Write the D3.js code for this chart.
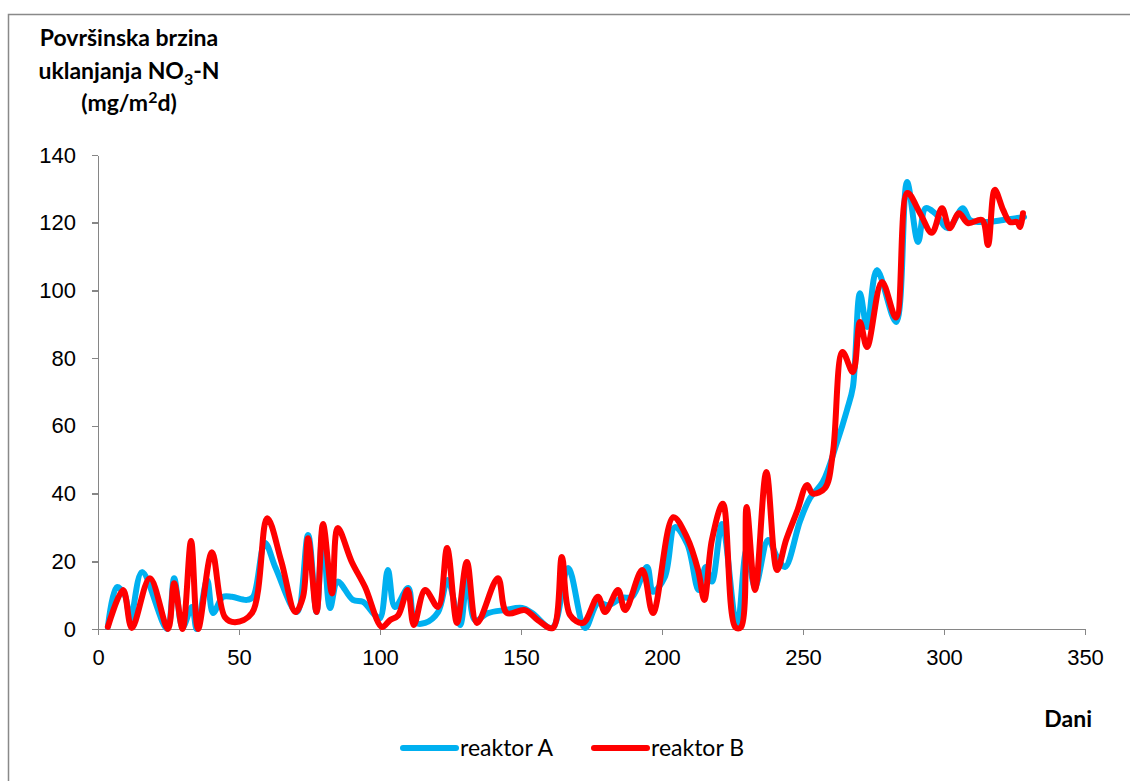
<!DOCTYPE html>
<html lang="hr">
<head>
  <meta charset="utf-8">
  <title>Površinska brzina uklanjanja NO3-N</title>
  <script src="https://cdn.jsdelivr.net/npm/d3@7"></script>
  <style>
    body { margin: 0; background: #fff; }
    svg { display: block; font-family: Lato, "Open Sans", sans-serif; }
    .axis path, .axis line { stroke: #868686; stroke-width: 1.5; shape-rendering: crispEdges; }
    .axis text { font-size: 22px; fill: #000; }
    .title { font-size: 23px; font-weight: bold; }
  </style>
</head>
<body>
  <div id="box"></div>
  <script>
    const width = 1130
    const height = 781

    // reaktor A (plava) - dan, brzina
    const daysA = [3.5, 6.7, 9.5, 11.5, 15.6, 24.5, 27, 30, 33.3, 35, 38.7, 40.8, 44.3, 47.5, 52.8, 55, 59.2, 63, 70.5, 74.5, 77.5, 79.7, 82.3, 85, 90.4, 94, 98.2, 100, 102.8, 105.3, 110, 112.4, 116, 120.6, 124, 128.4, 131, 133.7, 138.3, 144.3, 150.4, 154, 161, 166.7, 172.7, 177.3, 181, 185.8, 189.4, 194.7, 196.8, 201, 204.6, 209, 213, 215.5, 217.7, 221.3, 226.6, 230, 233, 237.6, 240.8, 243.6, 249, 252.5, 257, 262, 265.6, 267.7, 270.2, 272.7, 276.2, 283, 286.9, 290.8, 293.5, 296.8, 301.4, 306.7, 309.2, 315, 321, 326, 328.4]
    const valsA = [0.6, 12.4, 10, 3, 16.8, 0, 15, 0.5, 6.5, 0, 14.5, 4.7, 9.5, 9.5, 8.6, 9.5, 25.4, 18, 5, 27.8, 5, 29, 6.2, 14, 8.6, 8, 4.1, 3.2, 17.4, 6.5, 12.1, 2, 1.8, 5, 14.5, 1.2, 16, 2.6, 4.7, 5.6, 6.2, 4.7, 0.3, 18, 0.3, 7.7, 7, 9.2, 9.5, 18.3, 11, 15.4, 30.1, 25, 11.5, 18.3, 14, 31, 0.6, 23.3, 12.4, 26.3, 21.3, 18.3, 32, 38.7, 43.4, 55, 64.7, 71.5, 99.2, 89.2, 106, 90.7, 132, 114.3, 124.3, 122.8, 118.4, 124.3, 120.8, 120.2, 120.8, 121.4, 121.7]

    // reaktor B (crvena)
    const daysB = [3.5, 8.9, 12, 18.4, 24.8, 27, 30, 33, 35.5, 40.4, 45, 48.6, 54.6, 60, 65, 70, 72.7, 74.5, 77.5, 79.8, 83, 85, 90, 94.7, 100.7, 103.5, 106.4, 109.8, 112, 116, 120.6, 123.8, 127.3, 130.8, 134.4, 141.8, 145, 151.4, 156, 161.3, 164.5, 167.4, 172, 177.3, 179.8, 184.4, 186.9, 193, 196.8, 204, 208.9, 212.8, 215, 217.7, 221.6, 226, 228, 230, 233, 237, 240.8, 244, 248, 251.4, 253.5, 257.8, 260.6, 264, 267.7, 270.2, 272.7, 278, 283, 287, 291.5, 295.7, 299.3, 302, 305.3, 308.5, 313.5, 315.6, 318, 321, 323.4, 325.9, 327, 328]
    const valsB = [0.6, 11.5, 0.3, 15, 0, 13.5, 0, 26, 0, 22.7, 3.5, 2, 4.7, 32.7, 20, 5, 9.5, 26.8, 5, 31, 10.5, 29.8, 19.8, 12.4, 0.6, 2.6, 4, 11.5, 1.2, 11.5, 6.5, 23.9, 1.8, 19.8, 1.8, 15, 4.7, 5.6, 2.6, 0.3, 21.3, 4.1, 1.8, 9.5, 5, 11.5, 5.6, 17.4, 4.7, 33, 27, 17.4, 8.6, 26.3, 37, 0.5, 0.5, 36, 11.5, 46.4, 17.4, 26.3, 35, 42.5, 40, 41.6, 52, 81.8, 75.9, 90.7, 83.3, 102.5, 92, 128.8, 122.8, 117, 124.3, 118.4, 122.8, 119.9, 120.8, 113.4, 129.7, 123.7, 120.2, 120.2, 118.7, 122.8]

    const xTicks = [0, 50, 100, 150, 200, 250, 300, 350]
    const yTicks = [0, 20, 40, 60, 80, 100, 120, 140]
    const seriesNames = ['reaktor A', 'reaktor B']
    const colors = ['#00B0F0', '#FF0000']

    const seriesA = daysA.map((d, i) => [d, valsA[i]])
    const seriesB = daysB.map((d, i) => [d, valsB[i]])

    const padding = { top: 155, right: 45, bottom: 152, left: 98 }

    const xScale = d3.scaleLinear()
      .domain([0, 350])
      .range([padding.left, width - padding.right])

    const yScale = d3.scaleLinear()
      .domain([0, 140])
      .range([height - padding.bottom, padding.top])

    const svg = d3.select('#box')
      .append('svg')
      .attr('width', width)
      .attr('height', height)

    // okvir grafikona
    svg.append('rect')
      .attr('x', 8.5)
      .attr('y', 14.5)
      .attr('width', width)
      .attr('height', height)
      .attr('fill', 'none')
      .attr('stroke', '#898989')
      .attr('stroke-width', 1.5)

    // osi
    svg.append('g')
      .attr('class', 'axis')
      .attr('transform', `translate(0,${yScale(0)})`)
      .call(d3.axisBottom(xScale).tickValues(xTicks).tickSize(6).tickSizeOuter(0).tickPadding(14))

    svg.append('g')
      .attr('class', 'axis')
      .attr('transform', `translate(${xScale(0)},0)`)
      .call(d3.axisLeft(yScale).tickValues(yTicks).tickSize(6).tickSizeOuter(0).tickPadding(16))

    // linije
    const line = d3.line()
      .x(d => xScale(d[0]))
      .y(d => yScale(d[1]))
      .curve(d3.curveCatmullRom.alpha(0.5))

    ;[seriesA, seriesB].forEach((s, i) => {
      svg.append('path')
        .datum(s)
        .attr('fill', 'none')
        .attr('stroke', colors[i])
        .attr('stroke-width', 6)
        .attr('stroke-linejoin', 'round')
        .attr('stroke-linecap', 'round')
        .attr('d', line)
    })

    // naslov osi y
    const title = svg.append('text')
      .attr('class', 'title')
      .attr('text-anchor', 'middle')
    title.append('tspan').attr('x', 129).attr('y', 46).text('Površinska brzina')
    const t2 = title.append('tspan').attr('x', 129).attr('y', 79)
    t2.append('tspan').text('uklanjanja NO')
    t2.append('tspan').attr('dy', 6).attr('font-size', 16).text('3')
    t2.append('tspan').attr('dy', -6).text('-N')
    const t3 = title.append('tspan').attr('x', 129).attr('y', 111)
    t3.append('tspan').text('(mg/m')
    t3.append('tspan').attr('dy', -8).attr('font-size', 16).text('2')
    t3.append('tspan').attr('dy', 8).text('d)')

    // naslov osi x
    svg.append('text')
      .attr('class', 'title')
      .attr('x', 1092)
      .attr('y', 727)
      .attr('text-anchor', 'end')
      .text('Dani')

    // legenda
    const legendX = [403, 594]
    seriesNames.forEach((name, i) => {
      const g = svg.append('g').attr('transform', `translate(${legendX[i]},748)`)
      g.append('line')
        .attr('x1', 0).attr('x2', 53)
        .attr('stroke', colors[i])
        .attr('stroke-width', 6)
        .attr('stroke-linecap', 'round')
      g.append('text')
        .attr('x', 57)
        .attr('y', 8)
        .attr('font-size', 23)
        .text(name)
    })
  </script>
</body>
</html>
